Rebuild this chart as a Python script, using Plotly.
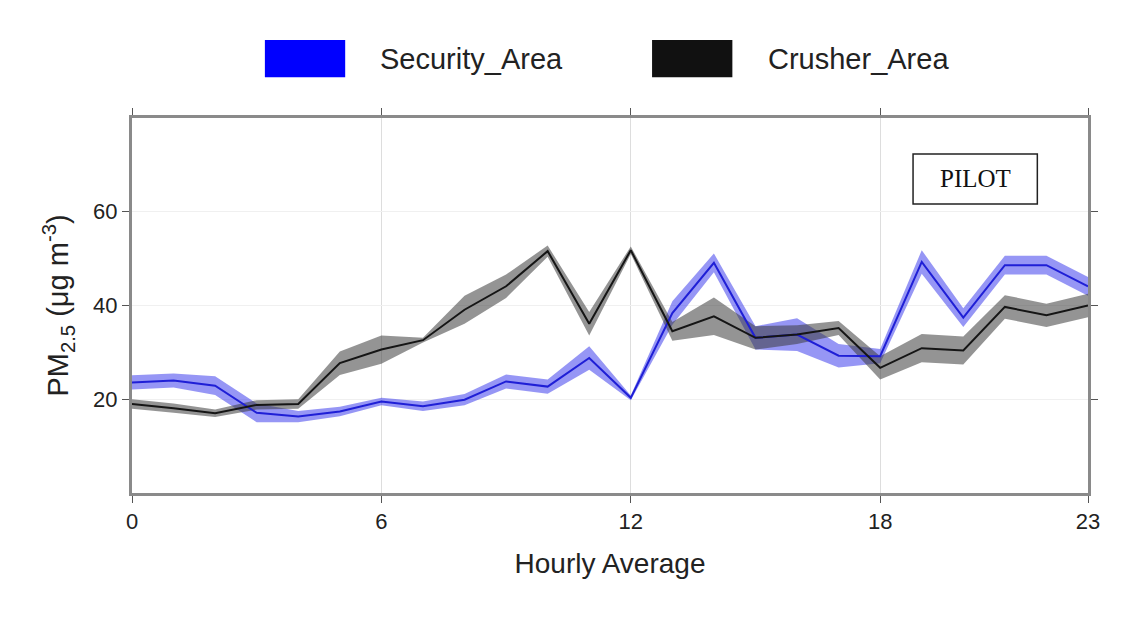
import plotly.graph_objects as go

# Hourly PM2.5 means and spread for the two monitoring areas
hours = list(range(24))
security_area = [23.6, 24.0, 22.9, 17.1, 16.3, 17.4, 19.5, 18.5, 19.9, 23.8, 22.7, 28.8,
                 20.3, 38.4, 49.1, 33.1, 33.8, 29.3, 29.2, 49.3, 37.4, 48.6, 48.6, 44.1]
security_err = [1.5, 1.5, 2.0, 2.0, 1.2, 1.0, 0.8, 1.0, 1.2, 1.5, 1.5, 2.5,
                0.5, 2.5, 2.0, 2.5, 3.5, 2.5, 1.5, 2.5, 2.0, 2.0, 2.0, 2.0]
crusher_area = [19.0, 18.1, 17.0, 18.8, 19.0, 27.7, 30.6, 32.6, 39.1, 44.1, 51.6, 36.1,
                51.8, 34.5, 37.7, 33.1, 33.8, 35.2, 26.7, 30.9, 30.4, 39.7, 37.9, 40.0]
crusher_err = [1.0, 1.0, 0.8, 1.0, 1.0, 2.5, 3.0, 0.5, 3.0, 2.5, 1.2, 2.5,
               0.8, 2.0, 4.0, 2.5, 2.0, 1.5, 2.5, 3.0, 3.0, 2.5, 2.5, 2.5]
x_ticks = [0, 6, 12, 18, 23]
y_ticks = [20, 40, 60]

FONT = "Liberation Sans, Arial"

series = [
    ("Security_Area", security_area, security_err, "#1f1fd6", "rgba(45,45,235,0.5)", "#0000ff"),
    ("Crusher_Area", crusher_area, crusher_err, "#151515", "rgba(60,60,60,0.55)", "#111111"),
]

fig = go.Figure()
for name, vals, err, line_col, band_col, _ in series:
    upper = [v + e for v, e in zip(vals, err)]
    lower = [v - e for v, e in zip(vals, err)]
    fig.add_trace(go.Scatter(x=hours + hours[::-1], y=upper + lower[::-1], fill="toself",
                             fillcolor=band_col, line=dict(width=0), mode="lines",
                             hoverinfo="skip", showlegend=False))
for name, vals, err, line_col, band_col, _ in series:
    fig.add_trace(go.Scatter(x=hours, y=vals, mode="lines", name=name,
                             line=dict(color=line_col, width=2), showlegend=False))

# Legend drawn as swatches with labels above the plot
legend_items = [(0.139, 0.223, 0.257, series[0]), (0.544, 0.628, 0.663, series[1])]
shapes = []
annotations = []
for x0, x1, xt, s in legend_items:
    shapes.append(dict(type="rect", xref="paper", yref="paper", x0=x0, x1=x1, y0=1.109, y1=1.208,
                       fillcolor=s[5], line=dict(width=0)))
    annotations.append(dict(xref="paper", yref="paper", x=xt, y=1.158, text=s[0], showarrow=False,
                            xanchor="left", yanchor="middle",
                            font=dict(family=FONT, size=29, color="#222")))

# PILOT label box
shapes.append(dict(type="rect", xref="paper", yref="paper", x0=0.817, x1=0.947, y0=0.771, y1=0.904,
                   fillcolor="white", line=dict(color="#222", width=1.5)))
annotations.append(dict(xref="paper", yref="paper", x=0.882, y=0.8375, text="PILOT", showarrow=False,
                        xanchor="center", yanchor="middle",
                        font=dict(family="Liberation Serif, Times New Roman", size=25, color="#111")))

axis_common = dict(showline=True, linecolor="#8a8a8a", linewidth=3, mirror="ticks",
                   ticks="outside", ticklen=7, tickcolor="#555", tickwidth=1,
                   zeroline=False,
                   tickfont=dict(family=FONT, size=22, color="#222"))

fig.update_layout(
    width=1127, height=617,
    margin=dict(l=132, r=39, t=118, b=124),
    paper_bgcolor="white", plot_bgcolor="white",
    shapes=shapes, annotations=annotations,
    xaxis=dict(range=[0, 23], tickvals=x_ticks, showgrid=True, gridcolor="#dddddd", gridwidth=1,
               title=dict(text="Hourly Average", standoff=20,
                          font=dict(family=FONT, size=28, color="#222")),
               **axis_common),
    yaxis=dict(range=[0, 80], tickvals=y_ticks, showgrid=True, gridcolor="#f0f0f0", gridwidth=1,
               title=dict(text="PM<sub>2.5</sub> (μg m<sup>-3</sup>)", standoff=16,
                          font=dict(family=FONT, size=29, color="#222")),
               **axis_common),
)

fig.write_html("out.html")
